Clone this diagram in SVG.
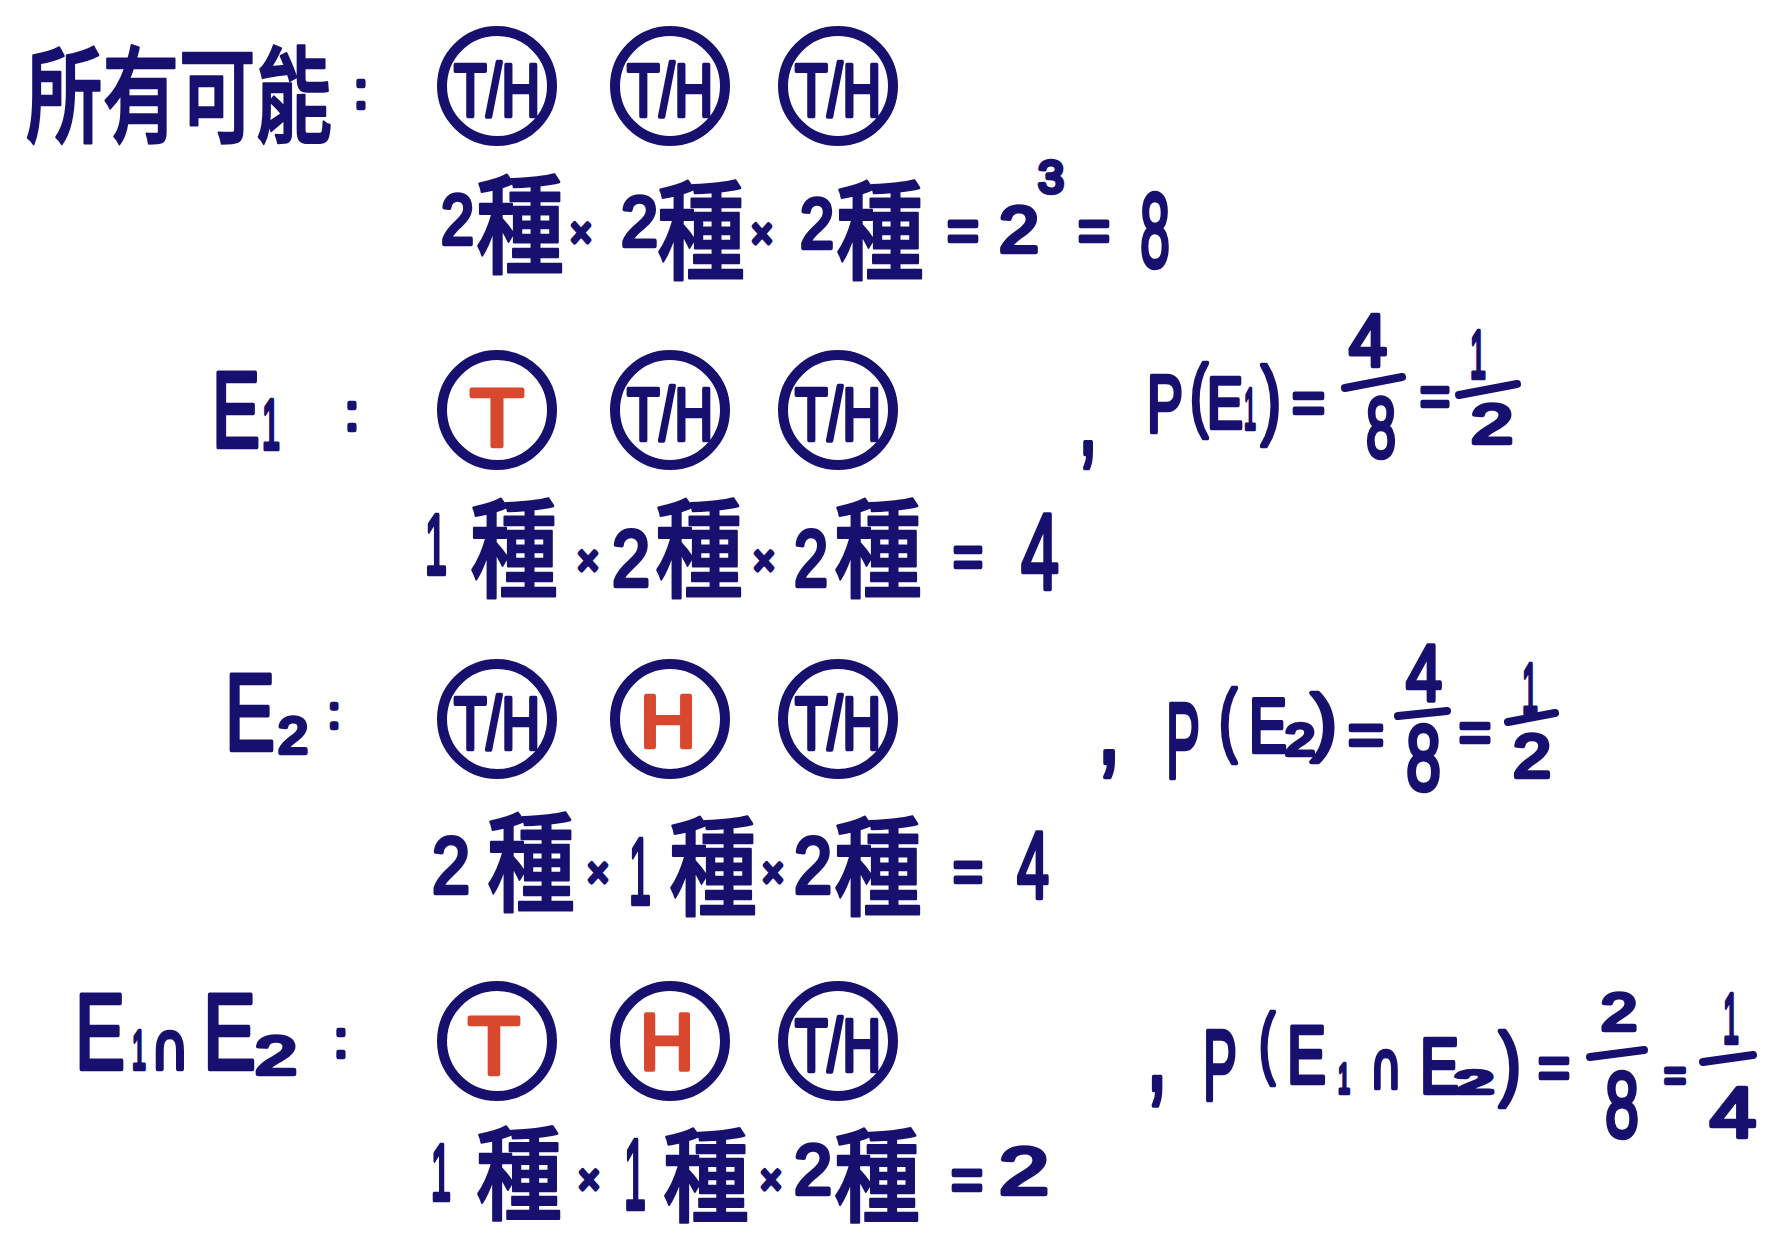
<svg xmlns="http://www.w3.org/2000/svg" width="1783" height="1240" viewBox="0 0 1783 1240">
<defs>
<style>
text{font-family:"Liberation Sans","DejaVu Sans",sans-serif;font-weight:400;fill:#17106e;stroke:#17106e;stroke-width:4.5;stroke-linejoin:round;stroke-linecap:round}
.c{font-family:"Noto Sans CJK TC","Noto Sans CJK SC",sans-serif;font-weight:500;stroke-width:2.5}
.d{font-family:"DejaVu Sans",sans-serif}
.r{fill:#d8482f;stroke:#d8482f}
.m{text-anchor:middle}
.coin{fill:none;stroke:#17106e;stroke-width:10}
.bar{stroke:#17106e;stroke-width:8;stroke-linecap:round;fill:none}
</style>
</defs>
<rect width="1783" height="1240" fill="#ffffff"/>
<g id="connectors"/>

<g id="row-all">
<g id="label-all">
<text class="c" x="26" y="134" font-size="105" textLength="306" lengthAdjust="spacingAndGlyphs">所有可能</text>
<text class="m" x="361" y="108" font-size="50">:</text>
</g>
<g id="coins-all">
<circle class="coin" cx="497" cy="86" r="55"/><text x="454" y="116" font-size="74" textLength="86" lengthAdjust="spacingAndGlyphs">T/H</text>
<circle class="coin" cx="670" cy="86" r="55"/><text x="627" y="116" font-size="74" textLength="86" lengthAdjust="spacingAndGlyphs">T/H</text>
<circle class="coin" cx="838" cy="86" r="55"/><text x="795" y="116" font-size="74" textLength="86" lengthAdjust="spacingAndGlyphs">T/H</text>
</g>
<g id="eq-all">
<text x="441" y="244" font-size="71" textLength="33" lengthAdjust="spacingAndGlyphs">2</text>
<text class="c" x="476" y="265" font-size="108" textLength="88" lengthAdjust="spacingAndGlyphs">種</text>
<text x="570" y="247" font-size="42" textLength="22" lengthAdjust="spacingAndGlyphs">×</text>
<text x="621" y="246" font-size="71" textLength="37" lengthAdjust="spacingAndGlyphs">2</text>
<text class="c" x="657" y="271" font-size="108" textLength="88" lengthAdjust="spacingAndGlyphs">種</text>
<text x="751" y="248" font-size="42" textLength="22" lengthAdjust="spacingAndGlyphs">×</text>
<text x="800" y="248" font-size="71" textLength="34" lengthAdjust="spacingAndGlyphs">2</text>
<text class="c" x="836" y="271" font-size="108" textLength="88" lengthAdjust="spacingAndGlyphs">種</text>
<text x="947" y="251" font-size="60" textLength="32" lengthAdjust="spacingAndGlyphs">=</text>
<text x="999" y="252" font-size="65" textLength="40" lengthAdjust="spacingAndGlyphs">2</text>
<text x="1038" y="193" font-size="47" textLength="26" lengthAdjust="spacingAndGlyphs">3</text>
<text x="1078" y="251" font-size="60" textLength="32" lengthAdjust="spacingAndGlyphs">=</text>
<text x="1140" y="267" font-size="105" textLength="30" lengthAdjust="spacingAndGlyphs">8</text>
</g>
</g>

<g id="row-e1">
<g id="label-e1">
<text x="212" y="447" font-size="107" textLength="48" lengthAdjust="spacingAndGlyphs">E</text>
<text x="262" y="449" font-size="71" textLength="18" lengthAdjust="spacingAndGlyphs">1</text>
<text class="m" x="352" y="430" font-size="50">:</text>
</g>
<g id="coins-e1">
<circle class="coin" cx="497" cy="410" r="55"/><text class="r" x="470" y="446" font-size="82" textLength="54" lengthAdjust="spacingAndGlyphs">T</text>
<circle class="coin" cx="670" cy="410" r="55"/><text x="627" y="440" font-size="74" textLength="86" lengthAdjust="spacingAndGlyphs">T/H</text>
<circle class="coin" cx="838" cy="410" r="55"/><text x="795" y="440" font-size="74" textLength="86" lengthAdjust="spacingAndGlyphs">T/H</text>
</g>
<g id="eq-e1">
<text x="425" y="574" font-size="86" textLength="22" lengthAdjust="spacingAndGlyphs">1</text>
<text class="c" x="470" y="589" font-size="108" textLength="88" lengthAdjust="spacingAndGlyphs">種</text>
<text x="577" y="575" font-size="42" textLength="22" lengthAdjust="spacingAndGlyphs">×</text>
<text x="612" y="586" font-size="79" textLength="38" lengthAdjust="spacingAndGlyphs">2</text>
<text class="c" x="655" y="589" font-size="108" textLength="88" lengthAdjust="spacingAndGlyphs">種</text>
<text x="753" y="575" font-size="42" textLength="22" lengthAdjust="spacingAndGlyphs">×</text>
<text x="794" y="586" font-size="79" textLength="34" lengthAdjust="spacingAndGlyphs">2</text>
<text class="c" x="834" y="589" font-size="108" textLength="88" lengthAdjust="spacingAndGlyphs">種</text>
<text x="953" y="577" font-size="60" textLength="30" lengthAdjust="spacingAndGlyphs">=</text>
<text x="1021" y="589" font-size="107" textLength="38" lengthAdjust="spacingAndGlyphs">4</text>
</g>
<g id="prob-e1">
<text x="1078" y="454" font-size="110" textLength="20" lengthAdjust="spacingAndGlyphs">,</text>
<text x="1147" y="432" font-size="82" textLength="36" lengthAdjust="spacingAndGlyphs">P</text>
<text x="1190" y="421" font-size="79" textLength="18" lengthAdjust="spacingAndGlyphs">(</text>
<text x="1207" y="428" font-size="72" textLength="36" lengthAdjust="spacingAndGlyphs">E</text>
<text x="1244" y="429" font-size="58" textLength="12" lengthAdjust="spacingAndGlyphs">1</text>
<text x="1261" y="428" font-size="87" textLength="20" lengthAdjust="spacingAndGlyphs">)</text>
<text x="1292" y="423" font-size="60" textLength="33" lengthAdjust="spacingAndGlyphs">=</text>
<text x="1349" y="366" font-size="75" textLength="38" lengthAdjust="spacingAndGlyphs">4</text>
<line class="bar" x1="1345" y1="388" x2="1402" y2="377"/>
<text x="1366" y="457" font-size="85" textLength="30" lengthAdjust="spacingAndGlyphs">8</text>
<text x="1420" y="415" font-size="55" textLength="30" lengthAdjust="spacingAndGlyphs">=</text>
<text x="1470" y="378" font-size="68" textLength="16" lengthAdjust="spacingAndGlyphs">1</text>
<line class="bar" x1="1459" y1="395" x2="1517" y2="384"/>
<text x="1471" y="443" font-size="55" textLength="42" lengthAdjust="spacingAndGlyphs">2</text>
</g>
</g>

<g id="row-e2">
<g id="label-e2">
<text x="225" y="750" font-size="110" textLength="50" lengthAdjust="spacingAndGlyphs">E</text>
<text x="278" y="753" font-size="50" textLength="30" lengthAdjust="spacingAndGlyphs">2</text>
<text class="m" x="334" y="728" font-size="44">:</text>
</g>
<g id="coins-e2">
<circle class="coin" cx="497" cy="719" r="55"/><text x="454" y="749" font-size="74" textLength="86" lengthAdjust="spacingAndGlyphs">T/H</text>
<circle class="coin" cx="670" cy="719" r="55"/><text class="r" x="640" y="747" font-size="74" textLength="56" lengthAdjust="spacingAndGlyphs">H</text>
<circle class="coin" cx="838" cy="719" r="55"/><text x="795" y="749" font-size="74" textLength="86" lengthAdjust="spacingAndGlyphs">T/H</text>
</g>
<g id="eq-e2">
<text x="432" y="893" font-size="79" textLength="38" lengthAdjust="spacingAndGlyphs">2</text>
<text class="c" x="487" y="903" font-size="108" textLength="88" lengthAdjust="spacingAndGlyphs">種</text>
<text x="587" y="887" font-size="42" textLength="22" lengthAdjust="spacingAndGlyphs">×</text>
<text x="629" y="904" font-size="94" textLength="22" lengthAdjust="spacingAndGlyphs">1</text>
<text class="c" x="669" y="907" font-size="108" textLength="88" lengthAdjust="spacingAndGlyphs">種</text>
<text x="762" y="887" font-size="42" textLength="22" lengthAdjust="spacingAndGlyphs">×</text>
<text x="794" y="893" font-size="79" textLength="38" lengthAdjust="spacingAndGlyphs">2</text>
<text class="c" x="834" y="907" font-size="108" textLength="88" lengthAdjust="spacingAndGlyphs">種</text>
<text x="953" y="892" font-size="60" textLength="30" lengthAdjust="spacingAndGlyphs">=</text>
<text x="1017" y="898" font-size="94" textLength="32" lengthAdjust="spacingAndGlyphs">4</text>
</g>
<g id="prob-e2">
<text x="1097" y="763" font-size="110" textLength="24" lengthAdjust="spacingAndGlyphs">,</text>
<text x="1166" y="778" font-size="107" textLength="34" lengthAdjust="spacingAndGlyphs">P</text>
<text x="1219" y="746" font-size="80" textLength="18" lengthAdjust="spacingAndGlyphs">(</text>
<text x="1249" y="752" font-size="76" textLength="38" lengthAdjust="spacingAndGlyphs">E</text>
<text x="1285" y="755" font-size="45" textLength="30" lengthAdjust="spacingAndGlyphs">2</text>
<text x="1311" y="747" font-size="75" textLength="26" lengthAdjust="spacingAndGlyphs">)</text>
<text x="1348" y="755" font-size="60" textLength="36" lengthAdjust="spacingAndGlyphs">=</text>
<text x="1406" y="700" font-size="80" textLength="36" lengthAdjust="spacingAndGlyphs">4</text>
<line class="bar" x1="1398" y1="716" x2="1447" y2="711"/>
<text x="1406" y="790" font-size="93" textLength="35" lengthAdjust="spacingAndGlyphs">8</text>
<text x="1459" y="751" font-size="55" textLength="32" lengthAdjust="spacingAndGlyphs">=</text>
<text x="1522" y="713" font-size="70" textLength="16" lengthAdjust="spacingAndGlyphs">1</text>
<line class="bar" x1="1508" y1="722" x2="1555" y2="713"/>
<text x="1513" y="777" font-size="61" textLength="38" lengthAdjust="spacingAndGlyphs">2</text>
</g>
</g>

<g id="row-e1e2">
<g id="label-e1e2">
<text x="75" y="1069" font-size="108" textLength="50" lengthAdjust="spacingAndGlyphs">E</text>
<text x="132" y="1069" font-size="56" textLength="14" lengthAdjust="spacingAndGlyphs">1</text>
<text class="d" x="151" y="1069" font-size="64" textLength="38" lengthAdjust="spacingAndGlyphs">∩</text>
<text x="203" y="1069" font-size="108" textLength="53" lengthAdjust="spacingAndGlyphs">E</text>
<text x="255" y="1074" font-size="54" textLength="42" lengthAdjust="spacingAndGlyphs">2</text>
<text class="m" x="341" y="1057" font-size="50">:</text>
</g>
<g id="coins-e1e2">
<circle class="coin" cx="497" cy="1041" r="55"/><text class="r" x="468" y="1074" font-size="82" textLength="52" lengthAdjust="spacingAndGlyphs">T</text>
<circle class="coin" cx="670" cy="1041" r="55"/><text class="r" x="640" y="1069" font-size="79" textLength="54" lengthAdjust="spacingAndGlyphs">H</text>
<circle class="coin" cx="838" cy="1041" r="55"/><text x="795" y="1071" font-size="74" textLength="86" lengthAdjust="spacingAndGlyphs">T/H</text>
</g>
<g id="eq-e1e2">
<text x="431" y="1200" font-size="79" textLength="20" lengthAdjust="spacingAndGlyphs">1</text>
<text class="c" x="476" y="1212" font-size="102" textLength="86" lengthAdjust="spacingAndGlyphs">種</text>
<text x="578" y="1194" font-size="42" textLength="22" lengthAdjust="spacingAndGlyphs">×</text>
<text x="624" y="1209" font-size="100" textLength="22" lengthAdjust="spacingAndGlyphs">1</text>
<text class="c" x="663" y="1214" font-size="102" textLength="86" lengthAdjust="spacingAndGlyphs">種</text>
<text x="760" y="1194" font-size="42" textLength="22" lengthAdjust="spacingAndGlyphs">×</text>
<text x="794" y="1194" font-size="71" textLength="38" lengthAdjust="spacingAndGlyphs">2</text>
<text class="c" x="834" y="1214" font-size="102" textLength="86" lengthAdjust="spacingAndGlyphs">種</text>
<text x="951" y="1200" font-size="60" textLength="32" lengthAdjust="spacingAndGlyphs">=</text>
<text x="999" y="1194" font-size="67" textLength="50" lengthAdjust="spacingAndGlyphs">2</text>
</g>
<g id="prob-e1e2">
<text x="1146" y="1090" font-size="120" textLength="22" lengthAdjust="spacingAndGlyphs">,</text>
<text x="1203" y="1100" font-size="101" textLength="34" lengthAdjust="spacingAndGlyphs">P</text>
<text x="1259" y="1069" font-size="77" textLength="16" lengthAdjust="spacingAndGlyphs">(</text>
<text x="1287" y="1083" font-size="81" textLength="39" lengthAdjust="spacingAndGlyphs">E</text>
<text x="1338" y="1093" font-size="42" textLength="12" lengthAdjust="spacingAndGlyphs">1</text>
<text class="d" x="1370" y="1088" font-size="64" textLength="32" lengthAdjust="spacingAndGlyphs">∩</text>
<text x="1420" y="1093" font-size="78" textLength="39" lengthAdjust="spacingAndGlyphs">E</text>
<text x="1455" y="1093" font-size="32" textLength="38" lengthAdjust="spacingAndGlyphs">2</text>
<text x="1499" y="1090" font-size="82" textLength="22" lengthAdjust="spacingAndGlyphs">)</text>
<text x="1538" y="1088" font-size="60" textLength="32" lengthAdjust="spacingAndGlyphs">=</text>
<text x="1601" y="1030" font-size="52" textLength="36" lengthAdjust="spacingAndGlyphs">2</text>
<line class="bar" x1="1590" y1="1057" x2="1644" y2="1050"/>
<text x="1605" y="1137" font-size="93" textLength="34" lengthAdjust="spacingAndGlyphs">8</text>
<text x="1664" y="1090" font-size="45" textLength="22" lengthAdjust="spacingAndGlyphs">=</text>
<text x="1723" y="1043" font-size="70" textLength="16" lengthAdjust="spacingAndGlyphs">1</text>
<line class="bar" x1="1703" y1="1062" x2="1753" y2="1055"/>
<text x="1710" y="1137" font-size="70" textLength="46" lengthAdjust="spacingAndGlyphs">4</text>
</g>
</g>
</svg>
